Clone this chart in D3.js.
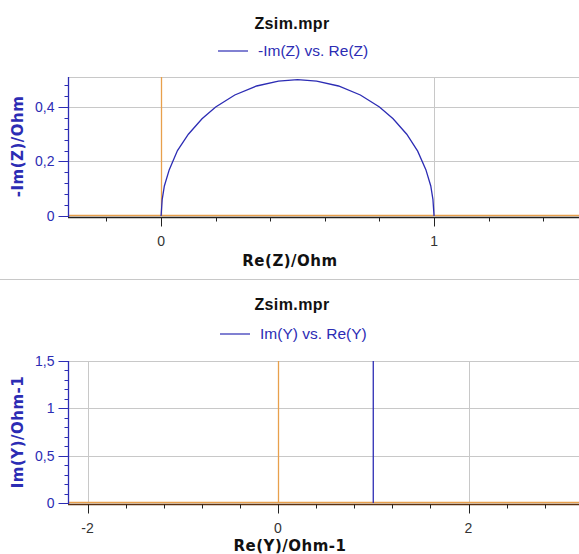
<!DOCTYPE html>
<html>
<head>
<meta charset="utf-8">
<script src="https://cdn.jsdelivr.net/npm/d3@7"></script>
<style>
  body { margin: 0; background: #fff; }
  svg { display: block; font-family: "Liberation Sans", Arial, sans-serif; }
</style>
</head>
<body>
<div id="chart"></div>
<script>
// semicircle: Re(Z), -Im(Z)
const reZ = [0, 0.004, 0.012, 0.03, 0.06, 0.1, 0.15, 0.2, 0.27, 0.35, 0.43, 0.5, 0.57, 0.65, 0.73, 0.8, 0.85, 0.9, 0.94, 0.97, 0.988, 0.996, 1];
const imZ = [0, 0.06, 0.11, 0.17, 0.24, 0.3, 0.357, 0.4, 0.444, 0.477, 0.495, 0.5, 0.495, 0.477, 0.444, 0.4, 0.357, 0.3, 0.238, 0.17, 0.11, 0.06, 0];
// admittance: vertical line at Re(Y)=1
const reY = [1, 1];
const imY = [0, 1.6];

const zXTicks = [0, 1];
const zYTicks = [0, 0.2, 0.4];
const yXTicks = [-2, 0, 2];
const yYTicks = [0, 0.5, 1, 1.5];

const W = 579, H = 554;
const blue = '#2c2cb4', orange = '#e8a04c', grid = '#c8c8c8';
const fmt = (d) => String(d).replace('.', ',');

const svg = d3.select('#chart').append('svg').attr('width', W).attr('height', H);

// separator between the two panels
svg.append('line').attr('x1', 0).attr('x2', W).attr('y1', 279.5).attr('y2', 279.5)
  .attr('stroke', '#c8c8c8').attr('stroke-width', 1);

function panel(o) {
  const g = svg.append('g');
  const x = d3.scaleLinear().domain(o.xDomain).range([68, W]);
  const y = d3.scaleLinear().domain(o.yDomain).range([o.bottom, o.top]);

  // title + legend
  g.append('text').attr('x', 292).attr('y', o.titleY).attr('text-anchor', 'middle')
    .attr('font-weight', 'bold').attr('font-size', 16).attr('letter-spacing', 0.4)
    .attr('fill', '#111').text('Zsim.mpr');
  g.append('line').attr('x1', o.legX).attr('x2', o.legX + 30)
    .attr('y1', o.legendY).attr('y2', o.legendY).attr('stroke', blue).attr('stroke-width', 1.2);
  g.append('text').attr('x', o.legX + 40).attr('y', o.legendY + 5)
    .attr('font-size', 15.5).attr('fill', blue).text(o.legend);

  // grid
  g.append('line').attr('x1', 68).attr('x2', W).attr('y1', o.top + 0.5).attr('y2', o.top + 0.5)
    .attr('stroke', grid);
  g.selectAll('.hg').data(o.yTicks.filter((d) => d !== 0)).enter().append('line')
    .attr('x1', 68).attr('x2', W)
    .attr('y1', (d) => Math.round(y(d)) + 0.5).attr('y2', (d) => Math.round(y(d)) + 0.5)
    .attr('stroke', grid);
  g.selectAll('.vg').data(o.xTicks.filter((d) => d !== 0)).enter().append('line')
    .attr('x1', (d) => Math.round(x(d)) + 0.5).attr('x2', (d) => Math.round(x(d)) + 0.5)
    .attr('y1', o.top).attr('y2', o.bottom)
    .attr('stroke', grid);

  // zero lines
  g.append('line').attr('x1', Math.round(x(0)) + 0.5).attr('x2', Math.round(x(0)) + 0.5)
    .attr('y1', o.top).attr('y2', o.bottom).attr('stroke', orange).attr('stroke-width', 1.3);
  g.append('line').attr('x1', 68).attr('x2', W)
    .attr('y1', y(0) - 0.5).attr('y2', y(0) - 0.5).attr('stroke', orange).attr('stroke-width', 1.5);

  // data
  const line = d3.line().x((d) => x(d[0])).y((d) => y(d[1]));
  g.append('clipPath').attr('id', o.id).append('rect')
    .attr('x', 68).attr('y', o.top).attr('width', W - 68).attr('height', o.bottom - o.top);
  g.append('path').datum(d3.zip(o.xs, o.ys)).attr('d', line)
    .attr('clip-path', `url(#${o.id})`)
    .attr('fill', 'none').attr('stroke', blue).attr('stroke-width', 1.3);

  // x axis (minor ticks every xMinor, long ticks on labelled values)
  const xa = g.append('g').attr('transform', `translate(0,${o.bottom + 1.5})`);
  xa.append('line').attr('x1', 68).attr('x2', W).attr('stroke', o.axisColor).attr('stroke-width', 1.5);
  const minorX = d3.range(Math.ceil(o.xDomain[0] / o.xMinor), Math.floor(o.xDomain[1] / o.xMinor) + 1)
    .map((i) => +(i * o.xMinor).toFixed(4));
  xa.selectAll('.mx').data(minorX).enter().append('line')
    .attr('x1', (d) => Math.round(x(d)) + 0.5).attr('x2', (d) => Math.round(x(d)) + 0.5)
    .attr('y1', 0).attr('y2', (d) => (o.xTicks.includes(d) ? 9 : 4))
    .attr('stroke', '#222');
  xa.selectAll('.lx').data(o.xTicks).enter().append('text')
    .attr('x', (d) => x(d)).attr('y', 28).attr('text-anchor', 'middle')
    .attr('font-size', 14).attr('fill', '#333').text(fmt);
  g.append('text').attr('x', 290).attr('y', o.bottom + o.xLabelDy).attr('text-anchor', 'middle')
    .attr('font-family', '"DejaVu Sans", Verdana, sans-serif').attr('letter-spacing', 0.5)
    .attr('font-weight', 'bold').attr('font-size', 15).attr('fill', '#111').text(o.xLabel);

  // y axis
  const ya = g.append('g').attr('transform', 'translate(68.5,0)');
  ya.append('line').attr('y1', o.top).attr('y2', o.bottom + 1).attr('stroke', blue).attr('stroke-width', 1.3);
  const minorY = d3.range(0, Math.floor(o.yDomain[1] / o.yMinor + 1e-6) + 1)
    .map((i) => +(i * o.yMinor).toFixed(4));
  ya.selectAll('.my').data(minorY).enter().append('line')
    .attr('y1', (d) => Math.round(y(d)) + 0.5).attr('y2', (d) => Math.round(y(d)) + 0.5)
    .attr('x1', (d) => (o.yTicks.includes(d) ? -10 : -4)).attr('x2', 0)
    .attr('stroke', blue);
  ya.selectAll('.ly').data(o.yTicks).enter().append('text')
    .attr('x', -14).attr('y', (d) => y(d) + 5).attr('text-anchor', 'end')
    .attr('font-size', 14).attr('fill', blue).text(fmt);
  g.append('text')
    .attr('transform', `translate(23,${(o.top + o.bottom) / 2}) rotate(-90)`)
    .attr('text-anchor', 'middle').attr('letter-spacing', 0.5)
    .attr('font-family', '"DejaVu Sans", Verdana, sans-serif')
    .attr('font-weight', 'bold').attr('font-size', 15).attr('fill', blue).text(o.yLabel);
}

panel({
  id: 'clipZ', titleY: 29, legendY: 51, legX: 218, legend: '-Im(Z) vs. Re(Z)',
  top: 77, bottom: 216, xDomain: [-0.341, 1.531], yDomain: [0, 0.51],
  xTicks: zXTicks, yTicks: zYTicks, xMinor: 0.2, yMinor: 0.04, xLabelDy: 50,
  xs: reZ, ys: imZ, axisColor: '#222', xLabel: 'Re(Z)/Ohm', yLabel: '-Im(Z)/Ohm',
});

panel({
  id: 'clipY', titleY: 310, legendY: 334, legX: 220, legend: 'Im(Y) vs. Re(Y)',
  top: 361, bottom: 503, xDomain: [-2.205, 3.16], yDomain: [0, 1.5],
  xTicks: yXTicks, yTicks: yYTicks, xMinor: 0.4, yMinor: 0.1, xLabelDy: 48,
  xs: reY, ys: imY, axisColor: '#5a3010', xLabel: 'Re(Y)/Ohm-1', yLabel: 'Im(Y)/Ohm-1',
});
</script>
</body>
</html>
